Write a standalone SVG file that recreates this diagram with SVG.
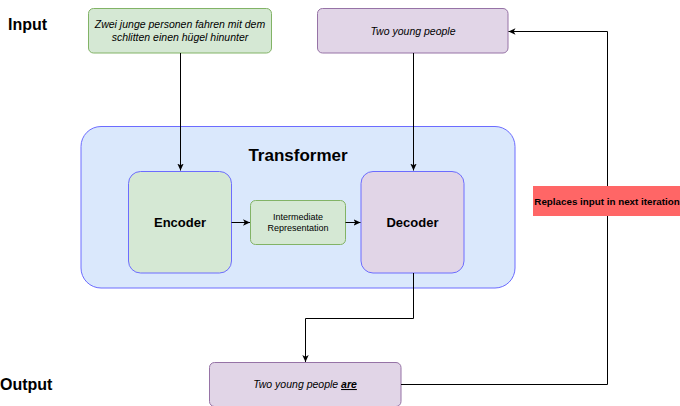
<svg xmlns="http://www.w3.org/2000/svg" width="680" height="406" viewBox="0 0 680 406">
<style>
.lbl{font-family:"Liberation Sans",Arial,sans-serif;fill:#000}
.big{font-size:16px;font-weight:bold}
.it{font-size:10.5px;font-style:italic;text-anchor:middle}
.green{fill:#d5e8d4;stroke:#82b366;stroke-width:1}
.purple{fill:#e1d5e7;stroke:#9673a6;stroke-width:1}
.blue{stroke:#6c6cff;stroke-width:1}
.conn{fill:none;stroke:#000;stroke-width:1}
</style>
<defs>
<marker id="ah" markerWidth="8" markerHeight="8" refX="7" refY="4" orient="auto" markerUnits="userSpaceOnUse">
<path d="M0,0.8 L7,4 L0,7.2 L1.8,4 Z" fill="#000"/>
</marker>
</defs>
<rect width="680" height="406" fill="#fff"/>
<text class="lbl big" x="8" y="30">Input</text>
<text class="lbl big" x="0" y="390">Output</text>
<g id="transformer">
<rect x="81" y="126.5" width="434" height="161.5" rx="20" fill="#dae8fc" class="blue"/>
<text class="lbl" x="298" y="161" font-size="17" font-weight="bold" text-anchor="middle">Transformer</text>
</g>
<g id="input-de">
<rect x="88.5" y="8.5" width="183" height="44.5" rx="5" class="green"/>
<text class="lbl it" x="180" y="28">Zwei junge personen fahren mit dem</text>
<text class="lbl it" x="180" y="41">schlitten einen hügel hinunter</text>
</g>
<g id="input-en">
<rect x="317.5" y="8.5" width="190.5" height="44.5" rx="5" class="purple"/>
<text class="lbl it" x="413" y="35">Two young people</text>
</g>
<g id="encoder">
<rect x="128.5" y="171.5" width="103" height="101.5" rx="12" fill="#d5e8d4" class="blue"/>
<text class="lbl" x="180" y="227" font-size="13" font-weight="bold" text-anchor="middle">Encoder</text>
</g>
<g id="intermediate">
<rect x="250.5" y="200.5" width="95" height="44" rx="5" class="green"/>
<text class="lbl" x="298" y="220" font-size="9" text-anchor="middle">Intermediate</text>
<text class="lbl" x="298" y="231" font-size="9" text-anchor="middle">Representation</text>
</g>
<g id="decoder">
<rect x="361" y="171.5" width="103" height="101.5" rx="12" fill="#e1d5e7" class="blue"/>
<text class="lbl" x="412.5" y="227" font-size="13" font-weight="bold" text-anchor="middle">Decoder</text>
</g>
<g id="output">
<rect x="209.5" y="362.5" width="191.5" height="44" rx="5" class="purple"/>
<text class="lbl it" x="305" y="388">Two young people <tspan font-weight="bold" text-decoration="underline">are</tspan></text>
</g>
<g id="connectors">
<path class="conn" d="M180.5,53 V170.5" marker-end="url(#ah)"/>
<path class="conn" d="M413.5,53 V170.5" marker-end="url(#ah)"/>
<path class="conn" d="M231.5,222.5 H250" marker-end="url(#ah)"/>
<path class="conn" d="M345.5,222.5 H360.5" marker-end="url(#ah)"/>
<path class="conn" d="M413.5,273 V318.5 H305.5 V362" marker-end="url(#ah)"/>
<path class="conn" d="M401,384.5 H607.5 V31.5 H508.5" marker-end="url(#ah)"/>
</g>
<g id="replaces-label">
<rect x="533" y="186" width="147" height="30" fill="#ff6666"/>
<text class="lbl" x="607" y="204.5" font-size="9.8" font-weight="bold" text-anchor="middle">Replaces input in next iteration</text>
</g>
</svg>
